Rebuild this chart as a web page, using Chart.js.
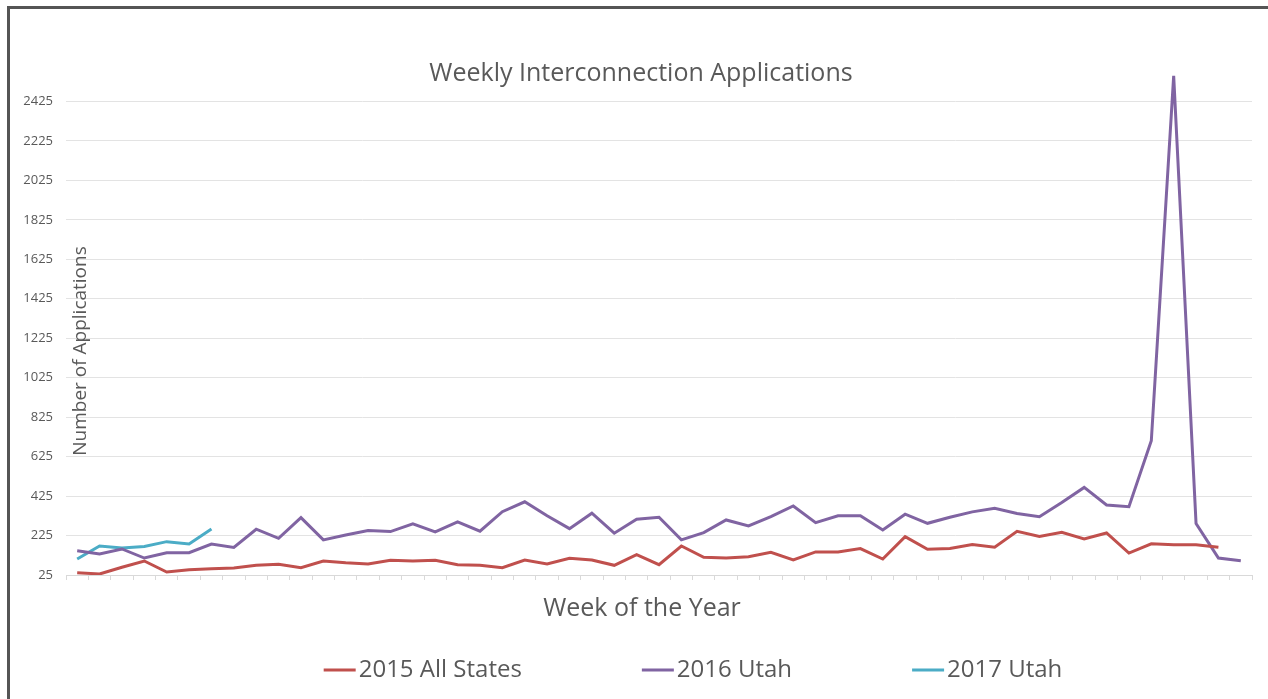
<!DOCTYPE html>
<html>
<head>
<meta charset="utf-8">
<title>Weekly Interconnection Applications</title>
<script src="https://cdn.jsdelivr.net/npm/chart.js@4.4.1/dist/chart.umd.min.js"></script>
<style>
  html, body { margin: 0; padding: 0; background: #fff; overflow: hidden; }
  #wrap { position: relative; width: 1268px; height: 699px; }
  #frame {
    position: absolute; left: 7px; top: 6px; width: 1400px; height: 800px;
    border-top: 3px solid #555; border-left: 3px solid #555;
    pointer-events: none;
  }
</style>
</head>
<body>
<div id="wrap">
  <canvas id="chart" width="1268" height="699"></canvas>
  <div id="frame"></div>
</div>
<script>
// week numbers 1..53
const weeks = ['1','2','3','4','5','6','7','8','9','10','11','12','13','14','15','16','17','18','19','20',
  '21','22','23','24','25','26','27','28','29','30','31','32','33','34','35','36','37','38','39','40',
  '41','42','43','44','45','46','47','48','49','50','51','52','53'];

// values
const allStates2015 = [37, 30, 64, 96, 40, 52, 57, 60, 74, 79, 62, 96, 87, 81, 100, 96, 100, 77, 74, 62,
  101, 81, 110, 101, 74, 128, 77, 172, 115, 111, 118, 140, 101, 142, 142, 159, 106, 219, 155, 159,
  180, 166, 246, 220, 241, 208, 238, 136, 183, 178, 178, 166];
const utah2016 = [148, 132, 157, 111, 138, 138, 182, 165, 257, 211, 316, 203, 228, 250, 245, 284, 243, 294, 247, 346,
  396, 325, 260, 338, 237, 308, 318, 203, 240, 304, 274, 321, 375, 290, 325, 325, 253, 333, 287, 318,
  345, 363, 337, 320, 392, 469, 380, 371, 705, 2555, 286, 111, 97];
const utah2017 = [106, 172, 162, 170, 194, 182, 258];

const yTicks = [25, 225, 425, 625, 825, 1025, 1225, 1425, 1625, 1825, 2025, 2225, 2425];
const yMin = 25;
const yMax = 2625;

const textGrey = '#595959';
const font = "'Open Sans', 'Liberation Sans', sans-serif";

// titles and legend are drawn here (Excel places them a bit off the plot centre)
const decorations = {
  id: 'decorations',
  afterDraw(chart) {
    const ctx = chart.ctx;
    const area = chart.chartArea;
    ctx.save();
    ctx.fillStyle = textGrey;
    ctx.textAlign = 'center';
    ctx.textBaseline = 'middle';

    // chart title
    ctx.font = '25px ' + font;
    ctx.fillText('Weekly Interconnection Applications', 641, 74);

    // x axis title
    ctx.font = '25px ' + font;
    ctx.fillText('Week of the Year', 642, 609);

    // y axis title sits inside the plot
    ctx.save();
    ctx.translate(area.left + 15, 351);
    ctx.rotate(-Math.PI / 2);
    ctx.font = '19px ' + font;
    ctx.fillText('Number of Applications', 0, 0);
    ctx.restore();

    // legend
    ctx.font = '24px ' + font;
    ctx.textAlign = 'left';
    const lineLen = 32, gapText = 3, gapItem = 120;
    const items = chart.data.datasets.map(ds => ({
      label: ds.label, color: ds.borderColor, w: lineLen + gapText + ctx.measureText(ds.label).width
    }));
    const total = items.reduce((s, it) => s + it.w, 0) + gapItem * (items.length - 1);
    let x = 693 - total / 2;
    const y = 670;
    items.forEach(it => {
      ctx.strokeStyle = it.color;
      ctx.lineWidth = 3;
      ctx.beginPath();
      ctx.moveTo(x, y);
      ctx.lineTo(x + lineLen, y);
      ctx.stroke();
      ctx.fillText(it.label, x + lineLen + gapText, y);
      x += it.w + gapItem;
    });
    ctx.restore();
  }
};

const ctx = document.getElementById('chart').getContext('2d');
new Chart(ctx, {
  type: 'line',
  data: {
    labels: weeks,
    datasets: [
      { label: '2015 All States', data: allStates2015, borderColor: '#C0504D', backgroundColor: '#C0504D' },
      { label: '2016 Utah', data: utah2016, borderColor: '#8064A2', backgroundColor: '#8064A2' },
      { label: '2017 Utah', data: utah2017, borderColor: '#4BACC6', backgroundColor: '#4BACC6' }
    ]
  },
  options: {
    responsive: false,
    animation: false,
    layout: { padding: { top: 62, right: 16, bottom: 77, left: 0 } },
    elements: {
      line: { borderWidth: 3, tension: 0 },
      point: { radius: 0 }
    },
    plugins: {
      legend: { display: false },
      title: { display: false },
      tooltip: { enabled: false }
    },
    scales: {
      x: {
        offset: true,
        grid: { offset: true, drawOnChartArea: false, drawTicks: true, tickLength: 5, color: '#d9d9d9' },
        border: { display: true, color: '#d9d9d9', width: 1 },
        ticks: { display: false },
        afterFit(scale) { scale.height = 47; }
      },
      y: {
        min: yMin,
        max: yMax,
        afterBuildTicks(scale) { scale.ticks = yTicks.map(v => ({ value: v })); },
        afterFit(scale) { scale.width = 66; },
        grid: { color: '#e3e3e3', drawTicks: false },
        border: { display: false },
        ticks: {
          color: textGrey, padding: 13, font: { family: font, size: 13 },
          callback: v => String(v)
        }
      }
    }
  },
  plugins: [decorations]
});
</script>
</body>
</html>
